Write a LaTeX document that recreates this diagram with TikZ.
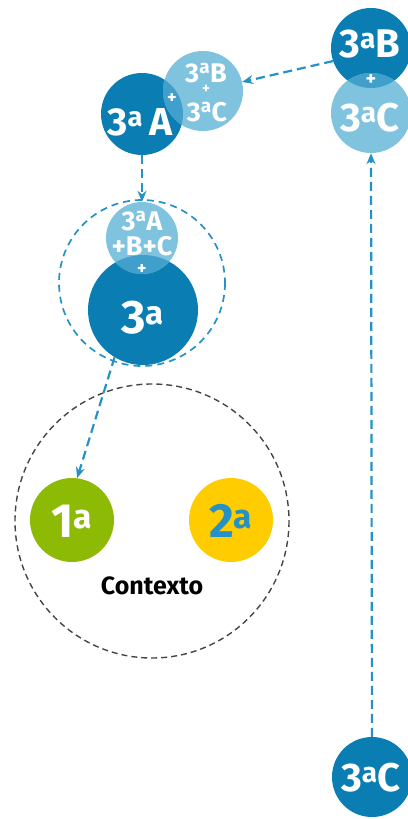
\documentclass[tikz,border=0pt]{standalone}
\usepackage{fontspec}
\setmainfont{Fira Sans}
\usetikzlibrary{arrows.meta}
\definecolor{dkblue}{HTML}{0A7DB3}
\definecolor{ltblue}{HTML}{80C3DF}
\definecolor{mdblue}{HTML}{40A0CB}
\definecolor{arblue}{HTML}{2492C6}
\definecolor{grn}{HTML}{8CBA05}
\definecolor{ylw}{HTML}{FFCC00}
\definecolor{ctxgray}{HTML}{444444}
\newcommand{\ord}[1]{#1\textsuperscript{a}}
\tikzset{
  disc/.style={circle, inner sep=0pt, minimum size=#1},
  lbl/.style={text=white, font=\bfseries\fontsize{#1}{#1}\selectfont, align=center, inner sep=0pt},
  arr/.style={arblue, line width=2.2pt, dash pattern=on 9pt off 5pt, -{Stealth[length=11pt,width=9pt]}},
}
\begin{document}
\begin{tikzpicture}[x=1pt,y=-1pt]
\useasboundingbox (0,0) rectangle (407,819);
% top-right pair
\node[disc=80pt, fill=dkblue] (b3) at (371,48) {};
\node[disc=80pt, fill=ltblue] (c3) at (371,113) {};
\begin{scope}
  \clip (b3.center) circle (40);
  \fill[mdblue] (c3.center) circle (40);
\end{scope}
\node[lbl=40] at (370,44) {\ord{3}B};
\node[lbl=20] at (371,80) {+};
\node[lbl=40] at (370,118) {\ord{3}C};
% 3A + (3B+3C)
\node[disc=82pt, fill=dkblue] (a3) at (142,114) {};
\node[disc=80pt, fill=ltblue] (bc) at (203,91) {};
\begin{scope}
  \clip (a3.center) circle (41);
  \fill[mdblue] (bc.center) circle (40);
\end{scope}
\node[lbl=39] at (140,122) {\ord{3}\,A};
\node[lbl=18] at (172,99) {+};
\node[lbl=27] at (206,73) {\ord{3}B};
\node[lbl=15] at (206,89) {+};
\node[lbl=27] at (207,112) {\ord{3}C};
% middle group
\draw[arblue, line width=1.7pt, dash pattern=on 7pt off 5pt] (142,283) circle (83);
\node[disc=110pt, fill=dkblue] (big) at (143,310) {};
\node[disc=72pt, fill=ltblue] (abc) at (142,238) {};
\begin{scope}
  \clip (big.center) circle (55);
  \fill[mdblue] (abc.center) circle (36);
\end{scope}
\node[lbl=27] at (142,221) {\ord{3}A};
\node[lbl=27] at (142,246) {+B+C};
\node[lbl=18] at (142,270) {+};
\node[lbl=47] at (143,318) {\ord{3}};
% context
\draw[ctxgray, line width=1.4pt, dash pattern=on 6pt off 4pt] (152,521) circle (137);
\node[disc=84pt, fill=grn] (one) at (72,520) {};
\node[lbl=48] at (72,521) {\ord{1}};
\node[disc=84pt, fill=ylw] (two) at (231,520) {};
\node[lbl=48, text=arblue] at (231,521) {\ord{2}};
\node[font=\bfseries\fontsize{25}{25}\selectfont, inner sep=0pt] (ctx) at (152,586) {Contexto};
% bottom 3C
\node[disc=80pt, fill=dkblue] (c3b) at (372,777) {};
\node[lbl=40] at (371,778) {\ord{3}C};
% arrows
\draw[arr] (b3.199) -- (bc.13);
\draw[arr] (a3.south) -- (abc.north);
\draw[arr] (big.239) -- (one.83);
\draw[arr] (c3b.north) -- (c3.south);
\end{tikzpicture}
\end{document}
